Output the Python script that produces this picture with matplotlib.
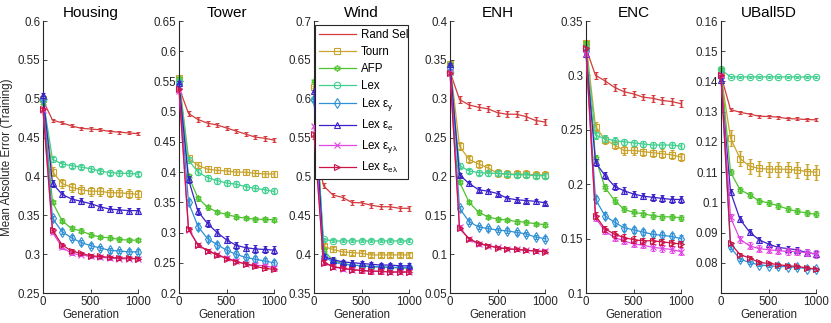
import matplotlib
matplotlib.use("Agg")
import matplotlib.pyplot as plt
import numpy as np

plt.rcParams['font.family'] = ['Liberation Sans', 'DejaVu Sans']
plt.rcParams['mathtext.fontset'] = 'custom'
plt.rcParams['mathtext.rm'] = 'Liberation Sans'
plt.rcParams['mathtext.it'] = 'Liberation Sans:italic'

generations = [0, 100, 200, 300, 400, 500, 600, 700, 800, 900, 1000]

methods = ['Rand Sel', 'Tourn', 'AFP', 'Lex', r'Lex ε$_\mathrm{y}$', r'Lex ε$_\mathrm{e}$',
           r'Lex ε$_\mathrm{yλ}$', r'Lex ε$_\mathrm{eλ}$']
colors = ['#d43a3e', '#c9a42c', '#4fc32f', '#3fcf8f', '#2f90d6', '#3a22c8', '#e046e0', '#cc1447']
markers = ['', 's', (6, 1, 0), 'o', 'd', '^', 'x', '>']

titles = ['Housing', 'Tower', 'Wind', 'ENH', 'ENC', 'UBall5D']

housing = [
    [0.498, 0.4725, 0.469, 0.465, 0.462, 0.461, 0.460, 0.458, 0.457, 0.456, 0.455],
    [0.500, 0.406, 0.391, 0.386, 0.383, 0.381, 0.381, 0.379, 0.379, 0.378, 0.377],
    [0.495, 0.367, 0.343, 0.333, 0.330, 0.325, 0.322, 0.321, 0.319, 0.318, 0.318],
    [0.500, 0.422, 0.416, 0.414, 0.412, 0.410, 0.407, 0.405, 0.404, 0.404, 0.403],
    [0.500, 0.346, 0.329, 0.321, 0.315, 0.311, 0.308, 0.305, 0.304, 0.303, 0.303],
    [0.505, 0.391, 0.377, 0.371, 0.368, 0.365, 0.361, 0.358, 0.357, 0.356, 0.356],
    [0.485, 0.328, 0.309, 0.301, 0.299, 0.297, 0.296, 0.295, 0.294, 0.294, 0.294],
    [0.487, 0.331, 0.312, 0.304, 0.301, 0.298, 0.297, 0.296, 0.295, 0.295, 0.294],
]
tower = [
    [0.540, 0.497, 0.487, 0.481, 0.478, 0.473, 0.468, 0.463, 0.458, 0.456, 0.453],
    [0.555, 0.423, 0.411, 0.405, 0.403, 0.402, 0.400, 0.400, 0.398, 0.397, 0.397],
    [0.555, 0.393, 0.357, 0.342, 0.334, 0.330, 0.326, 0.324, 0.322, 0.322, 0.321],
    [0.550, 0.420, 0.400, 0.391, 0.386, 0.382, 0.380, 0.376, 0.373, 0.371, 0.368],
    [0.545, 0.350, 0.310, 0.290, 0.280, 0.271, 0.264, 0.259, 0.256, 0.253, 0.250],
    [0.548, 0.388, 0.335, 0.315, 0.300, 0.288, 0.279, 0.275, 0.273, 0.272, 0.271],
    [0.535, 0.305, 0.280, 0.270, 0.264, 0.258, 0.253, 0.248, 0.246, 0.245, 0.242],
    [0.538, 0.306, 0.279, 0.270, 0.263, 0.257, 0.252, 0.248, 0.244, 0.241, 0.239],
]
wind = [
    [0.550, 0.488, 0.476, 0.473, 0.4665, 0.466, 0.463, 0.461, 0.461, 0.459, 0.459],
    [0.615, 0.410, 0.406, 0.403, 0.402, 0.401, 0.399, 0.399, 0.399, 0.399, 0.399],
    [0.623, 0.405, 0.392, 0.388, 0.386, 0.385, 0.384, 0.383, 0.383, 0.382, 0.382],
    [0.600, 0.419, 0.417, 0.417, 0.417, 0.417, 0.417, 0.417, 0.417, 0.417, 0.417],
    [0.598, 0.397, 0.390, 0.387, 0.386, 0.385, 0.384, 0.384, 0.383, 0.383, 0.383],
    [0.610, 0.397, 0.393, 0.390, 0.389, 0.388, 0.387, 0.386, 0.386, 0.385, 0.385],
    [0.565, 0.390, 0.384, 0.381, 0.380, 0.379, 0.378, 0.378, 0.377, 0.377, 0.377],
    [0.555, 0.389, 0.384, 0.382, 0.380, 0.379, 0.378, 0.378, 0.377, 0.377, 0.377],
]
enh = [
    [0.335, 0.299, 0.292, 0.289, 0.287, 0.282, 0.280, 0.280, 0.277, 0.272, 0.270],
    [0.345, 0.239, 0.222, 0.216, 0.211, 0.204, 0.203, 0.203, 0.203, 0.202, 0.202],
    [0.345, 0.193, 0.167, 0.154, 0.148, 0.145, 0.144, 0.142, 0.141, 0.139, 0.138],
    [0.335, 0.214, 0.207, 0.205, 0.204, 0.204, 0.203, 0.202, 0.202, 0.201, 0.201],
    [0.340, 0.159, 0.142, 0.135, 0.133, 0.131, 0.130, 0.128, 0.126, 0.122, 0.120],
    [0.345, 0.202, 0.191, 0.183, 0.181, 0.178, 0.172, 0.170, 0.169, 0.168, 0.166],
    [0.335, 0.135, 0.119, 0.113, 0.111, 0.109, 0.107, 0.106, 0.105, 0.104, 0.104],
    [0.333, 0.133, 0.120, 0.114, 0.111, 0.108, 0.107, 0.106, 0.105, 0.104, 0.103],
]
enc = [
    [0.325, 0.300, 0.295, 0.289, 0.285, 0.283, 0.280, 0.279, 0.277, 0.276, 0.274],
    [0.330, 0.253, 0.241, 0.236, 0.231, 0.231, 0.230, 0.229, 0.228, 0.227, 0.225],
    [0.330, 0.224, 0.197, 0.185, 0.177, 0.174, 0.173, 0.171, 0.170, 0.170, 0.169],
    [0.325, 0.245, 0.242, 0.240, 0.239, 0.238, 0.237, 0.236, 0.236, 0.236, 0.235],
    [0.322, 0.186, 0.171, 0.165, 0.160, 0.158, 0.156, 0.154, 0.153, 0.152, 0.150],
    [0.320, 0.220, 0.208, 0.198, 0.194, 0.191, 0.189, 0.188, 0.187, 0.186, 0.186],
    [0.320, 0.169, 0.157, 0.151, 0.148, 0.145, 0.144, 0.142, 0.141, 0.140, 0.138],
    [0.325, 0.171, 0.159, 0.154, 0.151, 0.149, 0.148, 0.148, 0.147, 0.146, 0.145],
]
uball = [
    [0.1420, 0.1307, 0.1298, 0.1292, 0.1285, 0.1284, 0.1282, 0.1277, 0.1276, 0.1274, 0.1273],
    [0.1420, 0.1213, 0.1145, 0.1120, 0.1112, 0.1110, 0.1110, 0.1109, 0.1107, 0.1102, 0.1100],
    [0.1440, 0.1100, 0.1042, 0.1025, 0.1005, 0.0998, 0.0989, 0.0978, 0.0970, 0.0965, 0.0960],
    [0.1440, 0.1415, 0.1415, 0.1415, 0.1415, 0.1415, 0.1415, 0.1415, 0.1415, 0.1415, 0.1415],
    [0.1415, 0.0851, 0.0812, 0.0801, 0.0793, 0.0790, 0.0788, 0.0787, 0.0785, 0.0781, 0.0779],
    [0.1405, 0.1035, 0.0944, 0.0902, 0.0876, 0.0862, 0.0851, 0.0847, 0.0843, 0.0834, 0.0829],
    [0.1420, 0.0950, 0.0878, 0.0856, 0.0847, 0.0843, 0.0840, 0.0838, 0.0837, 0.0833, 0.0829],
    [0.1420, 0.0864, 0.0827, 0.0816, 0.0801, 0.0798, 0.0794, 0.0790, 0.0788, 0.0783, 0.0779],
]

# estimated half-widths of the error bars (per series, per panel)
housing_err = [0.002, 0.006, 0.003, 0.003, 0.003, 0.004, 0.002, 0.002]
tower_err = [0.004, 0.005, 0.004, 0.005, 0.005, 0.006, 0.003, 0.003]
wind_err = [0.003, 0.003, 0.003, 0.002, 0.003, 0.003, 0.003, 0.003]
enh_err = [0.004, 0.005, 0.003, 0.003, 0.003, 0.003, 0.002, 0.002]
enc_err = [0.003, 0.004, 0.003, 0.003, 0.003, 0.003, 0.003, 0.003]
uball_err = [0.0005, 0.0025, 0.001, 0.0003, 0.0005, 0.001, 0.0012, 0.0005]

panels = [housing, tower, wind, enh, enc, uball]
errors = [housing_err, tower_err, wind_err, enh_err, enc_err, uball_err]
ylims = [(0.25, 0.6), (0.2, 0.65), (0.35, 0.7), (0.05, 0.4), (0.1, 0.35), (0.07, 0.16)]
yticks = [np.arange(0.25, 0.601, 0.05), np.arange(0.2, 0.651, 0.05), np.arange(0.35, 0.701, 0.05),
          np.arange(0.05, 0.401, 0.05), np.arange(0.1, 0.351, 0.05), np.arange(0.08, 0.161, 0.01)]

W, H = 831, 323
fig = plt.figure(figsize=(W / 100, H / 100), dpi=100)
lefts = [43, 179, 314, 450, 586, 721]
axw = 95
bottom_px, top_px = 293, 21
dark = '#262626'

handles = []
for i, (data, err) in enumerate(zip(panels, errors)):
    ax = fig.add_axes([lefts[i] / W, 1 - bottom_px / H, axw / W, (bottom_px - top_px) / H])
    x = np.array(generations)
    for j in range(len(methods)):
        y = np.array(data[j])
        e = np.full_like(y, err[j])
        e[0] = e[0] * 0.5
        ax.errorbar(x, y, yerr=e, fmt='none', ecolor=colors[j], elinewidth=2.2, alpha=0.35,
                    capsize=0, clip_on=False, zorder=2 + j * 0.1)
        ax.errorbar(x, y, yerr=e, fmt='none', ecolor=colors[j], elinewidth=0.7, capsize=1.6,
                    capthick=0.7, clip_on=False, zorder=2.05 + j * 0.1)
        ln, = ax.plot(x, y, color=colors[j], lw=0.9, marker=markers[j], markersize=4.6,
                      markerfacecolor='none', markeredgecolor=colors[j], markeredgewidth=0.8,
                      clip_on=False, zorder=2.08 + j * 0.1, label=methods[j])
        if i == 0:
            handles.append(ln)
    ax.set_xlim(0, 1000)
    ax.set_ylim(*ylims[i])
    ax.set_xticks([0, 500, 1000])
    ax.set_yticks(yticks[i])
    ax.set_yticklabels(['%g' % round(v, 3) for v in yticks[i]])
    for s in ['top', 'right']:
        ax.spines[s].set_visible(False)
    for s in ['left', 'bottom']:
        ax.spines[s].set_color(dark)
        ax.spines[s].set_linewidth(0.8)
    ax.tick_params(direction='in', length=3, width=0.6, colors=dark, labelsize=8.3, pad=2)
    ax.set_title(titles[i], fontsize=11, color='black', pad=3)
    ax.set_xlabel('Generation', fontsize=8.3, color=dark, labelpad=1)
    if i == 0:
        ax.set_ylabel('Mean Absolute Error (Training)', fontsize=8.3, color=dark, labelpad=3)

leg = fig.legend(handles, methods, loc='upper left',
                 bbox_to_anchor=(315 / W, 1 - 164 / H, 93 / W, 139 / H), mode='expand',
                 fontsize=8.3, frameon=True, fancybox=False, edgecolor=dark, framealpha=1,
                 handlelength=3.2, handletextpad=0.4, labelspacing=0.42, borderpad=0.35,
                 borderaxespad=0)
leg.get_frame().set_linewidth(0.8)
leg.set_zorder(10)

fig.savefig('out.png', dpi=100)
